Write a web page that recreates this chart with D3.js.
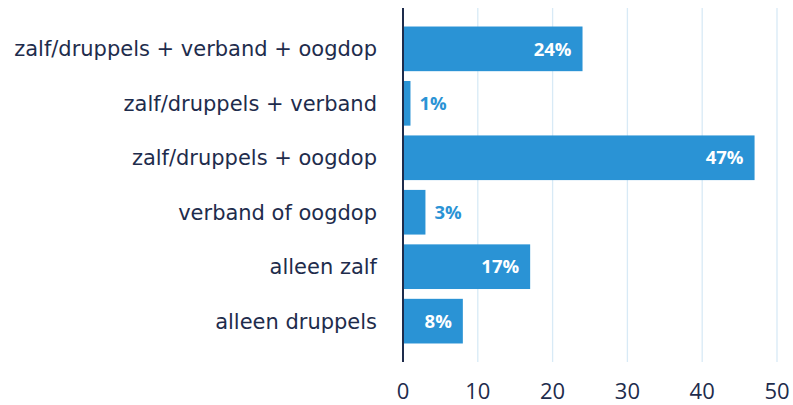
<!DOCTYPE html>
<html><head><meta charset="utf-8">
<script src="https://cdn.jsdelivr.net/npm/d3@7"></script>
<style>
html,body{margin:0;padding:0;background:#fff;}
svg{display:block;}
</style></head>
<body>
<script>
const categories = ["zalf/druppels + verband + oogdop","zalf/druppels + verband","zalf/druppels + oogdop","verband of oogdop","alleen zalf","alleen druppels"];
const values = [24, 1, 47, 3, 17, 8];
const tickValues = [0, 10, 20, 30, 40, 50];

const W = 793, H = 405;
const margin = {left: 403, right: 16, top: 8, bottom: 43};
const labelFont = "'DejaVu Sans', sans-serif";
const font = "'Open Sans', sans-serif";
const barColor = "#2a93d5";
const textColor = "#1e2c4c";

const svg = d3.select("body").append("svg").attr("width", W).attr("height", H);

const x = d3.scaleLinear().domain([0, 50]).range([margin.left, W - margin.right]);
const y = d3.scaleBand().domain(categories).range([margin.top, H - margin.bottom]).paddingInner(0.18).paddingOuter(0.34);

// gridlines
svg.append("g").selectAll("line").data(tickValues.slice(1)).join("line")
  .attr("x1", d => x(d)).attr("x2", d => x(d))
  .attr("y1", margin.top).attr("y2", H - margin.bottom)
  .attr("stroke", "#d8eaf6").attr("stroke-width", 1.3);

// bars
svg.append("g").selectAll("rect").data(values).join("rect")
  .attr("x", x(0)).attr("y", (d, i) => y(categories[i]))
  .attr("width", d => x(d) - x(0)).attr("height", y.bandwidth())
  .attr("fill", barColor);

// value labels
const vl = svg.append("g").selectAll("text").data(values).join("text")
  .attr("y", (d, i) => y(categories[i]) + y.bandwidth() / 2)
  .attr("dy", "0.36em")
  .attr("font-family", font).attr("font-weight", 700).attr("font-size", 18.5)
  .text(d => d + "%");
vl.each(function(d) {
  const t = d3.select(this);
  const w = this.getComputedTextLength();
  const barW = x(d) - x(0);
  if (barW > w + 20) {
    t.attr("x", x(d) - 11).attr("text-anchor", "end").attr("fill", "#fff");
  } else {
    t.attr("x", x(d) + 9).attr("text-anchor", "start").attr("fill", barColor);
  }
});

// y axis labels
const yl = svg.append("g").selectAll("text").data(categories).join("text")
  .attr("x", margin.left - 26)
  .attr("y", d => y(d) + y.bandwidth() / 2)
  .attr("dy", "0.36em")
  .attr("text-anchor", "end")
  .attr("font-family", labelFont).attr("font-size", 20)
  .attr("fill", textColor)
  .text(d => d);
// fit longest label to the reference width
let maxW = 0;
yl.each(function() { maxW = Math.max(maxW, this.getComputedTextLength()); });
yl.attr("font-size", 20 * 363 / maxW);

// x axis tick labels
svg.append("g").selectAll("text").data(tickValues).join("text")
  .attr("x", d => x(d)).attr("y", 399)
  .attr("text-anchor", "middle")
  .attr("font-family", font).attr("font-size", 22)
  .attr("fill", textColor)
  .text(d => d);

// y axis line
svg.append("line")
  .attr("x1", x(0)).attr("x2", x(0))
  .attr("y1", margin.top).attr("y2", H - margin.bottom)
  .attr("stroke", "#1e2c4c").attr("stroke-width", 2);
</script>
</body></html>
